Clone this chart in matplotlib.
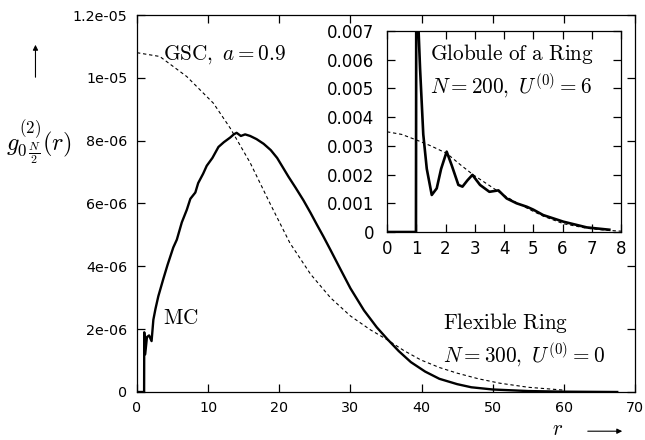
"""
Correlação g0N/2(r): anel flexível (MC) vs GSC, com inset do glóbulo.
"""
import matplotlib
matplotlib.use("Agg")
import matplotlib.pyplot as plt
import matplotlib.ticker as mticker
import matplotlib.patches as mpatches
import numpy as np

plt.rcParams["mathtext.fontset"] = "cm"
plt.rcParams["font.family"] = ["DejaVu Sans"]

# Curva MC (anel flexível, N=300), g em unidades de 1e-6
MC_R = [0, 1.0, 1.02, 1.15, 1.4, 1.7, 2.05, 2.3, 2.6, 3.0, 3.7, 4.3, 5.1, 5.6,
        6.3, 7.0, 7.5, 8.2, 8.6, 9.3, 9.8, 10.6, 11.45, 12.2, 13.1, 13.6, 14.0,
        14.6, 15.2, 15.9, 16.8, 17.8, 18.8, 19.7, 20.5, 21.3, 22.3, 23.4, 24.4,
        25.3, 26.2, 27.2, 28.5, 30.0, 31.9, 33.7, 35.2, 36.8, 38.5, 40.5, 42.5,
        45, 47, 50, 55, 60, 67.5]
MC_G = [0, 0, 1.9, 1.2, 1.75, 1.8, 1.62, 2.3, 2.65, 3.05, 3.6, 4.05, 4.6, 4.85,
        5.4, 5.8, 6.15, 6.35, 6.65, 6.95, 7.2, 7.45, 7.8, 7.95, 8.1, 8.2, 8.25,
        8.15, 8.2, 8.15, 8.05, 7.9, 7.7, 7.45, 7.15, 6.85, 6.5, 6.1, 5.7,
        5.32, 4.95, 4.52, 3.95, 3.3, 2.6, 2.06, 1.68, 1.3, 0.95, 0.65, 0.42,
        0.25, 0.15, 0.08, 0.03, 0.01, 0.0]

# Curva GSC (a = 0.9), unidades de 1e-6
GSC_R = [0, 3.2, 7, 10.75, 13.1, 15.9, 18.7, 21.5, 24.4, 27.2, 30, 32.8, 35.2,
         37.5, 39.9, 42.5, 45, 48, 51, 55, 60]
GSC_G = [10.8, 10.68, 10.04, 9.19, 8.4, 7.3, 6.0, 4.74, 3.75, 3.0, 2.42, 1.98,
         1.66, 1.32, 1.02, 0.78, 0.6, 0.42, 0.28, 0.15, 0.06]

# Inset: glóbulo de um anel (N=200), unidades de 1e-3
GLOB_R = [0, 0.99, 1.0, 1.08, 1.13, 1.24, 1.36, 1.53, 1.7, 1.85, 2.04, 2.21,
          2.44, 2.58, 2.75, 2.92, 3.18, 3.5, 3.81, 4.09, 4.43, 4.78, 5.0, 5.34,
          6.03, 6.83, 7.5, 7.6]
GLOB_G = [0, 0, 7.8, 7.0, 5.7, 3.4, 2.2, 1.29, 1.52, 2.2, 2.8, 2.33, 1.64,
          1.58, 1.8, 1.99, 1.64, 1.40, 1.45, 1.17, 1.0, 0.88, 0.78, 0.59, 0.36,
          0.16, 0.09, 0.08]
GLOB_GSC_R = [0, 0.5, 1.02, 1.5, 2.04, 2.5, 2.95, 3.5, 3.98, 4.43, 5.0, 5.35,
              6.03, 6.83, 7.5, 8.0]
GLOB_GSC_G = [3.49, 3.4, 3.2, 3.0, 2.74, 2.35, 1.99, 1.62, 1.29, 1.02, 0.72,
              0.55, 0.29, 0.13, 0.06, 0.03]

MAIN_YTICKS = [0, 2e-6, 4e-6, 6e-6, 8e-6, 1e-5, 1.2e-5]
INSET_YTICKS = [0, 0.001, 0.002, 0.003, 0.004, 0.005, 0.006, 0.007]

TXT_FS = 15.3


def _ticks(ax, fs, pad_x, pad_y, comp):
    ax.tick_params(direction="in", top=True, right=True, length=comp,
                   width=0.9, labelsize=fs)
    ax.tick_params(axis="x", pad=pad_x)
    ax.tick_params(axis="y", pad=pad_y)
    for s in ax.spines.values():
        s.set_linewidth(0.9)


fig = plt.figure(figsize=(6.45, 4.4), dpi=100)
ax = fig.add_axes([0.2124, 0.1091, 0.7721, 0.8568])

ax.plot(np.array(MC_R), np.array(MC_G) * 1e-6, color="black", lw=1.7)
ax.plot(np.array(GSC_R), np.array(GSC_G) * 1e-6, color="black", lw=0.8,
        dashes=(3, 2.5))
ax.set_xlim(0, 70)
ax.set_ylim(0, 1.2e-5)
ax.set_xticks(range(0, 71, 10))
ax.set_yticks(MAIN_YTICKS)
ax.yaxis.set_major_formatter(mticker.FuncFormatter(lambda v, _: "%g" % v))
_ticks(ax, 10.3, 6.5, 7, 5.5)

ax.text(3.6, 1.075e-5, r"$\mathrm{GSC},\ a = 0.9$", fontsize=TXT_FS, va="center")
ax.text(3.6, 2.35e-6, r"$\mathrm{MC}$", fontsize=TXT_FS, va="center")
ax.text(43.0, 2.2e-6, r"$\mathrm{Flexible\ Ring}$", fontsize=TXT_FS, va="center")
ax.text(43.0, 1.18e-6, r"$N = 300,\ U^{(0)} = 0$", fontsize=TXT_FS, va="center")

# rótulo do eixo y com seta
fig.text(0.01, 0.675, r"$g^{(2)}_{0\,\frac{N}{2}}(r)$", fontsize=17.5,
         va="center", ha="left")
fig.add_artist(mpatches.FancyArrowPatch(
    (0.055, 1 - 80 / 440), (0.055, 1 - 42 / 440), transform=fig.transFigure,
    arrowstyle="-|>,head_length=3,head_width=1.5", color="black", lw=0.8))
# rótulo do eixo x com seta
fig.text(0.864, 0.026, r"$r$", fontsize=TXT_FS, va="center", ha="center")
fig.add_artist(mpatches.FancyArrowPatch(
    (585 / 645, 0.02), (625 / 645, 0.02), transform=fig.transFigure,
    arrowstyle="-|>,head_length=3,head_width=1.5", color="black", lw=0.8))

# Inset
axi = fig.add_axes([0.6, 0.4727, 0.3628, 0.4568])
axi.set_facecolor("white")
axi.plot(GLOB_R, np.array(GLOB_G) * 1e-3, color="black", lw=1.9)
axi.plot(GLOB_GSC_R, np.array(GLOB_GSC_G) * 1e-3, color="black", lw=0.8,
         dashes=(3, 2.5))
axi.set_xlim(0, 8)
axi.set_ylim(0, 0.007)
axi.set_xticks(range(0, 9))
axi.set_yticks(INSET_YTICKS)
axi.yaxis.set_major_formatter(mticker.FuncFormatter(lambda v, _: "%g" % v))
_ticks(axi, 12, 5.5, 9, 6)
axi.text(1.48, 0.0062, r"$\mathrm{Globule\ of\ a\ Ring}$", fontsize=TXT_FS,
         va="center")
axi.text(1.48, 0.0051, r"$N = 200,\ U^{(0)} = 6$", fontsize=TXT_FS,
         va="center")

fig.savefig("out.png", dpi=100, facecolor="white")
